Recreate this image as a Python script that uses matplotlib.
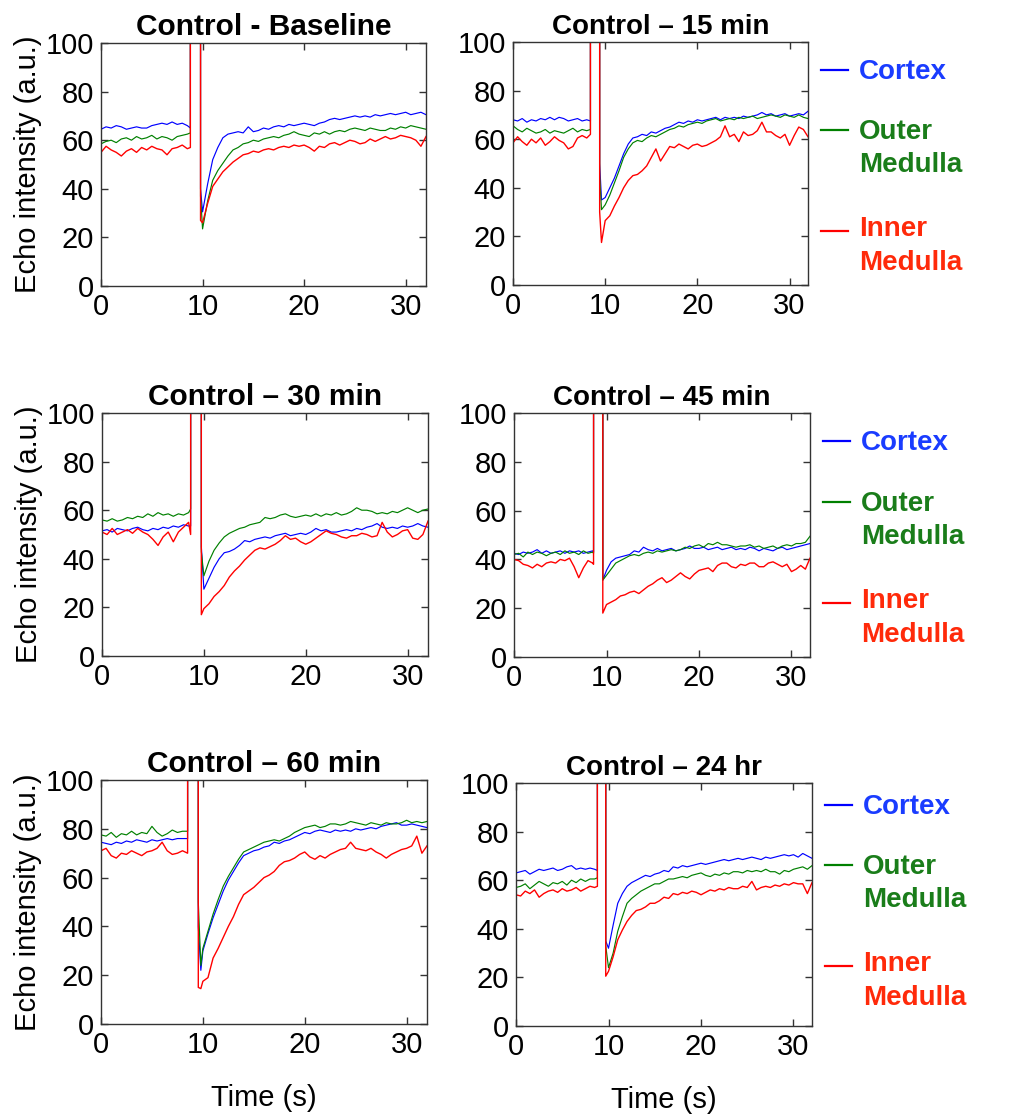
import numpy as np
import matplotlib
matplotlib.use("Agg")
import matplotlib.pyplot as plt

plt.rcParams["font.family"] = ["Liberation Sans", "DejaVu Sans"]

# sampling grid: before the bolus, then per-panel spike times, then after it
T_PRE = np.arange(0, 8.01, 0.5)      # 17 points
T_POST = np.arange(10.5, 32.01, 0.5)  # 44 points

titles = ["Control - Baseline", "Control \u2013 15 min", "Control \u2013 30 min",
          "Control \u2013 45 min", "Control \u2013 60 min", "Control \u2013 24 hr"]
regions = ["Cortex", "Outer\nMedulla", "Inner\nMedulla"]

# ---- Baseline
base_spike_t = [8.5, 8.8, 8.8, 9.8, 9.8, 10.0]
base_cortex = [64.5, 65.5, 65, 66, 65.5, 64.5, 65, 65.5, 65, 65, 66, 66.5, 67, 66.5, 67.5, 66.5, 67,
               66, 65, 150, 150, 40, 30.5,
               42, 52, 57, 61, 62.5, 63, 63.5, 63, 65.5, 63.5,
               64, 65, 64.5, 65.5, 66, 65.5, 66.5, 66, 66.5, 67,
               66.5, 66, 67, 67.5, 68.5, 69, 68.5, 69, 69.5, 70,
               69.5, 70, 69.5, 70.5, 70, 70.5, 71, 70.5, 71, 71.5,
               70.5, 71, 71.5, 70.5]
base_outer = [58.5, 59.5, 60, 59, 60.5, 61, 60, 61.5, 60.5, 61, 62, 60.5, 61.5, 61, 60, 61.5, 62,
              62.5, 63, 150, 150, 37, 23.5,
              35, 43.5, 47.5, 50.5, 53.5, 56, 57, 58.5, 59, 60,
              59.5, 60.5, 61, 61.5, 61, 62, 62.5, 63.5, 62.5, 62,
              61.5, 63, 62.5, 63.5, 62.5, 63.5, 64, 63.5, 64.5, 65,
              64.5, 64, 65, 64.5, 64, 64, 65, 64.5, 65.5, 65,
              66, 65.5, 65, 64.5]
base_inner = [55, 57.5, 56, 55, 53.5, 55.5, 56.5, 55, 57, 56, 57.5, 56.5, 56, 54, 56.5, 57, 58,
              56.5, 57, 150, 150, 27, 26,
              34, 41, 44, 47, 49, 51, 52.5, 54, 54.5, 55.5,
              55, 56, 56.5, 56, 57, 57.5, 57, 58, 57.5, 58,
              57, 55.5, 57.5, 57, 58.5, 59, 58, 59, 60, 59.5,
              58.5, 59, 60.5, 59.5, 60.5, 61.5, 60.5, 61, 62, 61.5,
              61, 60, 57.5, 61.5]

# ---- 15 min
m15_spike_t = [8.4, 8.4, 9.4, 9.4, 9.6, 10.0]
m15_cortex = [68, 67.5, 68.5, 67, 68, 67.5, 68.5, 68, 69, 68, 69, 68.5, 67.5, 68, 68.5, 67.5, 68,
              67.5, 150, 150, 50, 35, 36,
              40, 44, 49, 54, 58, 60.5, 61, 62, 61.5, 63,
              62.5, 63.5, 64.5, 65, 66, 67, 66.5, 67.5, 67, 68,
              67.5, 68, 68.5, 69, 68, 69, 68.5, 69, 68.5, 69.5,
              69, 69.5, 70, 71, 70, 70.5, 69.5, 70, 70.5, 69.5,
              70, 70.5, 70, 71.5]
m15_outer = [65.5, 64, 63, 64.5, 63.5, 62.5, 63, 64, 62.5, 63.5, 63, 62.5, 63.5, 64.5, 63, 64, 63.5,
             64, 150, 150, 45, 31, 33,
             37, 42, 47, 52.5, 56, 58.5, 59.5, 59, 60.5, 61.5,
             61, 62, 63, 64, 64.5, 65.5, 65, 66, 66.5, 67,
             66.5, 67.5, 68, 68.5, 67.5, 68, 68.5, 68, 69, 68.5,
             69, 69.5, 68.5, 69, 69.5, 70, 69.5, 69, 70, 69.5,
             69, 70, 69, 68.5]
m15_inner = [58.5, 61, 59, 57.5, 60, 58.5, 60.5, 57.5, 59, 61, 59.5, 58.5, 56, 57, 60.5, 61.5, 60.5,
             62, 150, 150, 30, 17.5, 26.5,
             28.5, 32.5, 36, 40, 43, 45, 45.5, 47, 49, 52.5,
             56, 51, 54, 57, 56.5, 58, 57, 56, 57.5, 58,
             57, 57.5, 58.5, 59.5, 61, 65.5, 61, 62, 59, 63,
             61.5, 62, 63.5, 67, 63, 63, 61.5, 60.5, 62, 57.5,
             61.5, 65, 64, 61]

# ---- 30 min
m30_spike_t = [8.5, 8.7, 8.7, 9.75, 9.75, 10.0]
m30_cortex = [51.5, 52, 51, 52.5, 52, 51.5, 52.5, 53, 52, 51.5, 52.5, 52, 53, 52.5, 53.5, 53, 54,
              53.5, 53.5, 150, 150, 45, 27.5,
              32, 36.5, 40, 42.5, 43, 44, 45.5, 47.5, 47, 48,
              48.5, 49, 48.5, 49.5, 50, 50.5, 49.5, 50, 50.5, 50,
              51, 52.5, 51.5, 52, 51, 51, 51.5, 52, 51.5, 52.5,
              52, 53, 53.5, 54.5, 53, 52.5, 53, 52.5, 53.5, 53,
              53.5, 54.5, 53.5, 53]
m30_outer = [56, 55.5, 56.5, 55.5, 56, 57, 56.5, 57.5, 57, 58.5, 57.5, 59, 58, 58.5, 57.5, 58.5, 58,
             59, 60.5, 150, 150, 43, 33,
             39, 43.5, 46.5, 49, 50.5, 51.5, 52.5, 53, 54, 54.5,
             55, 57, 56.5, 57, 58, 58.5, 57.5, 57, 57.5, 58,
             57.5, 58.5, 57.5, 58.5, 58, 59, 58, 58.5, 59.5, 61,
             60, 60, 59.5, 58.5, 59, 58.5, 59.5, 59, 60, 61,
             60, 59, 60, 60.5]
m30_inner = [51, 50, 52.5, 50, 51, 52, 50.5, 52.5, 51, 50, 48, 45.5, 49, 51, 47, 51, 53,
             55, 50, 150, 150, 17, 19.5,
             21.5, 24.5, 26.5, 29, 32.5, 35, 37, 39.5, 41.5, 43.5,
             44.5, 44, 45, 46, 47.5, 49.5, 48, 48.5, 47, 46,
             47, 48.5, 50, 51.5, 50.5, 50, 49, 48.5, 49.5, 49.5,
             50.5, 50, 49, 49.5, 55, 51, 49, 50, 51.5, 52,
             48.5, 48, 50, 55.5]

# ---- 45 min
m45_spike_t = [8.5, 8.6, 8.6, 9.6, 9.6, 10.0]
m45_cortex = [42.5, 42, 43, 42.5, 43, 44, 42.5, 43.5, 42.5, 43, 43.5, 42.5, 43.5, 43, 43.5, 42.5, 43,
              43.5, 43, 150, 150, 31.5, 35.5,
              39, 40.5, 41, 41.5, 42, 43.5, 43, 45, 44, 43.5,
              44.5, 43.5, 44, 44.5, 43.5, 44, 44.5, 45.5, 44.5, 44.5,
              45, 44, 44.5, 45, 44, 44.5, 45, 44, 44.5, 44,
              45, 44.5, 43.5, 44.5, 44, 43.5, 44.5, 45, 44, 44.5,
              45, 45.5, 46, 46.5]
m45_outer = [42, 42.5, 41, 43, 42, 43, 42.5, 41.5, 42.5, 43, 42, 43.5, 42.5, 43, 42, 43.5, 42.5,
             43, 42.5, 150, 150, 31.5, 33.5,
             36, 38.5, 39.5, 40.5, 41.5, 42, 41.5, 42.5, 43, 42.5,
             43.5, 43, 43.5, 44, 43.5, 44, 45, 44.5, 45.5, 46,
             45, 46.5, 46, 47, 46, 46, 45.5, 45, 45.5, 45.5,
             46, 45, 45.5, 44.5, 45, 45.5, 44.5, 45.5, 46, 45.5,
             46.5, 46.5, 47, 49.5]
m45_inner = [40, 39.5, 38, 37.5, 36.5, 38, 37, 38.5, 39, 38.5, 40, 39.5, 40.5, 37, 32.5, 36.5, 39.5,
             38.5, 38, 150, 150, 18, 21.5,
             22.5, 23.5, 25, 25.5, 26.5, 27, 26, 27.5, 29, 30,
             31.5, 32.5, 30.5, 31.5, 33, 34.5, 33, 32, 34, 35.5,
             36, 36.5, 35, 37.5, 38.5, 38.5, 37, 36.5, 38, 37.5,
             38.5, 38.5, 37, 37, 38.5, 39, 38, 37, 38, 35,
             36, 37.5, 36, 40.5]

# ---- 60 min
m60_spike_t = [8.5, 8.5, 9.55, 9.55, 9.8, 10.0]
m60_cortex = [74.5, 74, 73.5, 74.5, 74, 75, 74.5, 75.5, 75, 74.5, 75.5, 75, 75.5, 76, 75.5, 76, 76,
              76, 150, 150, 40, 22, 30,
              37, 43.5, 49, 54.5, 59, 62.5, 66, 69, 70, 71,
              71.5, 72.5, 73, 74.5, 74, 75, 75.5, 76.5, 77.5, 78.5,
              78, 79, 79.5, 79, 78.5, 79.5, 79, 79.5, 79, 80,
              79.5, 80, 80.5, 80, 81, 81.5, 82, 82.5, 81.5, 81.5,
              82, 81.5, 81, 80.5]
m60_outer = [77.5, 77, 78.5, 76.5, 78, 77.5, 79, 77.5, 78.5, 78, 81, 78.5, 77, 78, 79.5, 78.5, 79,
             79, 150, 150, 50, 24, 31,
             38, 45, 51, 56.5, 60.5, 64, 67.5, 70.5, 71.5, 72.5,
             73.5, 74.5, 75, 75.5, 75, 76, 77, 78.5, 79.5, 80.5,
             81, 81.5, 80.5, 81, 82, 82, 81.5, 82, 83, 82.5,
             82, 81.5, 82.5, 82, 81.5, 82.5, 82, 82, 82.5, 83.5,
             82.5, 83, 82.5, 83]
m60_inner = [71, 72, 69, 68, 70, 69.5, 71, 70, 69, 70.5, 71, 72, 74.5, 71, 69.5, 70, 71,
             70, 150, 150, 15, 14.5, 17.5,
             19, 27, 31, 35.5, 40, 44, 49, 53, 54.5, 56,
             58, 60, 61, 62.5, 65, 66.5, 67, 68, 69.5, 70.5,
             68.5, 67.5, 69, 68, 69.5, 70.5, 71.5, 72, 74.5, 72,
             71.5, 71, 72, 70.5, 69.5, 68, 69.5, 70.5, 71.5, 72,
             73, 77, 70, 73]

# ---- 24 hr
h24_spike_t = [8.5, 8.8, 8.8, 9.7, 9.7, 10.0]
h24_cortex = [63, 63.5, 64, 62.5, 63.5, 64.5, 64, 64.5, 65, 64, 64.5, 65.5, 66, 64.5, 65, 64.5, 65,
              64.5, 64, 150, 150, 35, 32,
              41.5, 50.5, 54.5, 57.5, 59, 60, 61, 62, 61.5, 62.5,
              63, 64, 63.5, 65.5, 65, 66, 65.5, 66, 66.5, 67,
              66.5, 67, 67.5, 68, 68.5, 68, 68.5, 69, 68.5, 69,
              69.5, 69, 68.5, 69.5, 69, 69.5, 70, 70.5, 70, 70.5,
              69.5, 71, 70, 69]
h24_outer = [57, 57.5, 58.5, 56.5, 58, 59.5, 58.5, 57.5, 59, 58.5, 59.5, 58, 60, 59, 60.5, 59.5, 60.5,
             60.5, 61, 150, 150, 33, 24,
             30, 39, 45, 50.5, 52.5, 54, 55.5, 56.5, 57.5, 58.5,
             58.5, 59.5, 60.5, 60.5, 61, 61.5, 61, 62, 62.5, 63,
             62, 61.5, 62.5, 62, 63, 62.5, 63.5, 63.5, 63, 64,
             63.5, 64, 63.5, 64.5, 63.5, 63.5, 62.5, 64, 63.5, 64.5,
             65, 65.5, 64.5, 66]
h24_inner = [54, 53.5, 55.5, 54.5, 56, 53, 54.5, 55.5, 56, 55, 56.5, 55.5, 56, 57, 55.5, 56.5, 57.5,
             57, 57.5, 150, 150, 20.5, 22.5,
             28.5, 35.5, 39.5, 43, 45.5, 47.5, 48, 49, 50.5, 50.5,
             51.5, 53, 52.5, 54.5, 54, 55, 54.5, 55.5, 55, 54,
             55, 56, 55.5, 56.5, 56, 57, 56.5, 56.5, 57.5, 57,
             59.5, 56, 57, 57.5, 57, 58, 57.5, 58.5, 58, 59,
             58.5, 58.5, 54.5, 59]

panels = [
    (base_spike_t, base_cortex, base_outer, base_inner),
    (m15_spike_t, m15_cortex, m15_outer, m15_inner),
    (m30_spike_t, m30_cortex, m30_outer, m30_inner),
    (m45_spike_t, m45_cortex, m45_outer, m45_inner),
    (m60_spike_t, m60_cortex, m60_outer, m60_inner),
    (h24_spike_t, h24_cortex, h24_outer, h24_inner),
]

line_colors = ["#0000ff", "#008000", "#ff0000"]
line_widths = [0.85, 0.85, 1.0]
text_colors = ["#1a3cff", "#1a7d1a", "#ff2a0a"]

W, H = 1016, 1114
fig = plt.figure(figsize=(W / 100, H / 100), dpi=100)

# axes boxes in pixels: left, top, right, bottom
boxes = [(101, 43, 426, 286), (513, 42, 808, 285),
         (102, 413, 428, 656), (514, 413, 810, 657),
         (101, 780, 427, 1024), (516, 783, 812, 1026)]
title_sizes = [21.5, 20, 21.5, 20, 21.5, 20]
key_shift = {1: 0.0, 3: 0.0, 5: 0.025}

for i, (spike_t, cortex, outer, inner) in enumerate(panels):
    l, t, r, b = boxes[i]
    ax = fig.add_axes([l / W, 1 - b / H, (r - l) / W, (b - t) / H])
    tt = np.r_[T_PRE, spike_t, T_POST]
    for vals, c, lw in zip([cortex, outer, inner], line_colors, line_widths):
        assert len(vals) == len(tt)
        ax.plot(tt, vals, color=c, lw=lw)
    ax.set_xlim(0, 32)
    ax.set_ylim(0, 100)
    ax.set_xticks([0, 10, 20, 30])
    ax.set_yticks(range(0, 101, 20))
    ax.tick_params(direction="in", top=True, right=True, length=5, width=1,
                   labelsize=21, pad=5, color="#333333")
    for s in ax.spines.values():
        s.set_color("#333333")
        s.set_linewidth(1.0)
    ax.set_title(titles[i], fontsize=title_sizes[i], fontweight="bold", pad=6)
    if i % 2 == 0:
        ax.set_ylabel("Echo intensity (a.u.)", fontsize=21, labelpad=3)
    else:
        # region key to the right of the panel
        d = key_shift[i]
        line_y = [0.884, 0.636, 0.223]
        text_y = [[0.876], [0.628, 0.492], [0.231, 0.091]]
        for ly, tys, name, lc, tc in zip(line_y, text_y, regions, line_colors, text_colors):
            ax.plot([1.044, 1.136], [ly + d, ly + d], color=lc, lw=1.6,
                    transform=ax.transAxes, clip_on=False)
            for ty, word in zip(tys, name.split("\n")):
                ax.text(1.173, ty + d, word, transform=ax.transAxes, color=tc,
                        fontsize=20, fontweight="bold", va="center", ha="left")
    if i >= 4:
        ax.set_xlabel("Time (s)", fontsize=21, labelpad=18)

fig.savefig("out.png", dpi=100)
